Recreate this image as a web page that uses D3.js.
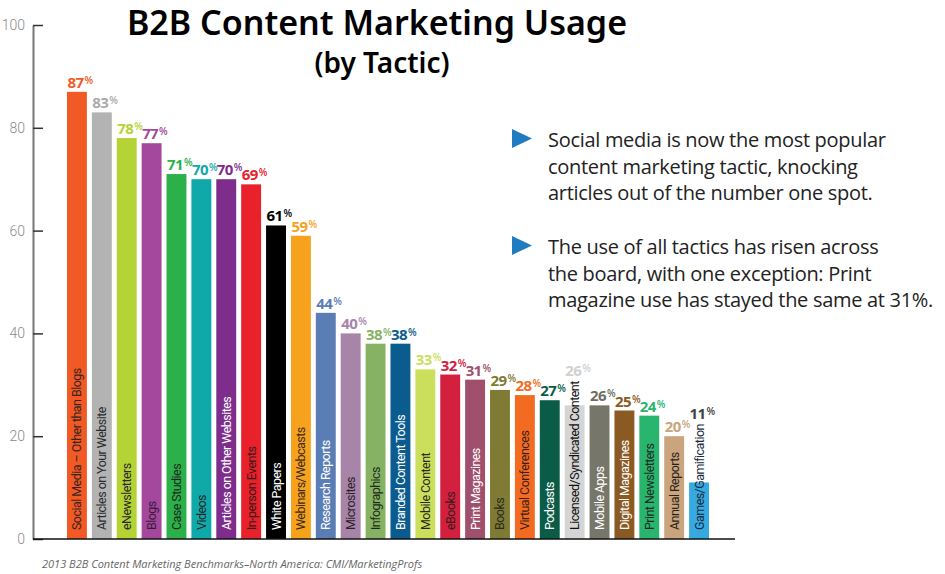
<!DOCTYPE html>
<meta charset="utf-8">
<script src="https://d3js.org/d3.v7.min.js"></script>
<style>
  body { margin: 0; background: #fff; }
</style>
<div id="chart"></div>
<script>

// data
var tactics = ["Social Media – Other than Blogs", "Articles on Your Website", "eNewsletters", "Blogs",
  "Case Studies", "Videos", "Articles on Other Websites", "In-person Events", "White Papers",
  "Webinars/Webcasts", "Research Reports", "Microsites", "Infographics", "Branded Content Tools",
  "Mobile Content", "eBooks", "Print Magazines", "Books", "Virtual Conferences", "Podcasts",
  "Licensed/Syndicated Content", "Mobile Apps", "Digital Magazines", "Print Newsletters",
  "Annual Reports", "Games/Gamification"];
var usage = [87, 83, 78, 77, 71, 70, 70, 69, 61, 59, 44, 40, 38, 38, 33, 32, 31, 29, 28, 27, 26, 26, 25, 24, 20, 11];
var yTicks = [0, 20, 40, 60, 80, 100];

var barColors = ["#f15a24", "#b3b3b3", "#b5d334", "#a3489c", "#2bb04a", "#10a9aa", "#7f2d8c", "#e8212b",
  "#000000", "#f7a21c", "#5b7db6", "#a784a8", "#86b363", "#0a5b8e", "#cbdf5c", "#d3203f", "#a04f6c",
  "#7f7b34", "#f26b21", "#0b5c47", "#d5d5d5", "#77766a", "#8b5a23", "#2ab56f", "#c9a47c", "#36a9e1"];
var valueColors = ["#f15a24", "#aaaaaa", "#b5d334", "#a3489c", "#2bb04a", "#10a9aa", "#7f2d8c", "#e8212b",
  "#000000", "#f7a21c", "#5b7db6", "#a784a8", "#86b363", "#0a5b8e", "#cbdf5c", "#d3203f", "#a04f6c",
  "#7f7b34", "#f26b21", "#0b5c47", "#d0d0d0", "#6f6e62", "#8b5a23", "#2ab56f", "#c9a47c", "#444444"];
// dark or white lettering inside each bar
var inkColors = ["#3a2420", "#2a2a2a", "#2a2a2a", "#3a1a3a", "#1f2a1f", "#1f2a2a", "#ffffff", "#3a1a1a",
  "#ffffff", "#3a2a1a", "#ffffff", "#2a1f2a", "#1f2a1a", "#ffffff", "#2a2a1a", "#3a1a1a", "#ffffff",
  "#2a2a1a", "#3a1f1a", "#ffffff", "#111111", "#ffffff", "#ffffff", "#1f2a1f", "#2a1f1a", "#1a2a3a"];

var bullets = [
  ["Social media is now the most popular", "content marketing tactic, knocking", "articles out of the number one spot."],
  ["The use of all tactics has risen across", "the board, with one exception: Print", "magazine use has stayed the same at 31%."]
];

var width = 945, height = 574;

var svg = d3.select("#chart")
  .append("svg")
    .attr("width", width)
    .attr("height", height);

var x = d3.scaleBand()
    .domain(tactics)
    .range([64.5, 711.5])
    .paddingInner(0.2)
    .paddingOuter(0.1);

var y = d3.scaleLinear()
    .domain([0, 100])
    .range([539, 25]);

// y axis, ticks pointing into the plot
var yAxis = svg.append("g")
    .attr("transform", "translate(33,0)")
    .call(d3.axisLeft(y).tickValues(yTicks).tickSizeInner(-10).tickSizeOuter(0).tickPadding(8));
yAxis.select(".domain").attr("stroke", "#777").attr("stroke-width", 2);
yAxis.selectAll(".tick line").attr("stroke", "#333").attr("stroke-width", 1.5);
yAxis.selectAll(".tick text")
    .attr("fill", "#8a8a8a")
    .style("font-family", "Roboto, 'Noto Sans', sans-serif")
    .style("font-size", "14px")
    .style("font-weight", 300);

// bars
var rows = tactics.map(function(t, i) { return {name: t, value: usage[i], i: i}; });

var bar = svg.selectAll(".bar")
    .data(rows)
    .enter()
    .append("g")
      .attr("class", "bar");

bar.append("rect")
    .attr("x", function(d) { return x(d.name); })
    .attr("y", function(d) { return y(d.value); })
    .attr("width", x.bandwidth())
    .attr("height", function(d) { return y(0) - y(d.value); })
    .style("fill", function(d) { return barColors[d.i]; });

// category names written up the bars
var names = bar.append("text")
    .attr("transform", function(d) { return "translate(" + (x(d.name) + x.bandwidth() / 2 + 4.5) + "," + (y(0) - 9) + ") rotate(-90)"; })
    .attr("text-anchor", "start")
    .style("font-family", "Roboto, sans-serif")
    .style("font-size", "12.5px")
    .style("letter-spacing", "-0.55px")
    .style("fill", function(d) { return inkColors[d.i]; })
    .text(function(d) { return d.name; });

// value labels, lifted over the name when the name runs past the bar
var vals = bar.append("text")
    .attr("x", function(d) { return x(d.name) + 0.5; })
    .attr("y", function(d, k) {
      var top = y(0) - 9 - names.nodes()[k].getComputedTextLength();
      return Math.min(y(d.value), top - 1) - 4;
    })
    .style("font-family", "'Open Sans', sans-serif")
    .style("font-weight", 700)
    .style("font-size", "15px")
    .style("letter-spacing", "-0.6px")
    .style("fill", function(d) { return valueColors[d.i]; });
vals.append("tspan").text(function(d) { return d.value; });
vals.append("tspan")
    .attr("dy", -4)
    .attr("dx", 1)
    .style("font-size", "10px")
    .style("font-weight", 600)
    .text("%");

// baseline
svg.append("line")
    .attr("x1", 33).attr("x2", 735)
    .attr("y1", y(0)).attr("y2", y(0))
    .attr("stroke", "#111")
    .attr("stroke-width", 1.5);

// title
svg.append("text")
    .attr("x", 377).attr("y", 35)
    .attr("text-anchor", "middle")
    .style("font-family", "'Noto Sans', sans-serif")
    .style("font-weight", 600)
    .style("font-size", "34px")
    .style("fill", "#000")
    .text("B2B Content Marketing Usage");

svg.append("text")
    .attr("x", 382).attr("y", 73)
    .attr("text-anchor", "middle")
    .style("font-family", "'Noto Sans', sans-serif")
    .style("font-weight", 600)
    .style("font-size", "28px")
    .style("fill", "#000")
    .text("(by Tactic)");

// notes on the right
var notes = svg.append("g");
bullets.forEach(function(lines, b) {
  var top = 147 + b * 107;
  notes.append("path")
      .attr("d", "M512," + (top - 18) + "L532," + (top - 8.5) + "L512," + (top + 1) + "Z")
      .style("fill", "#1f7cc1");
  lines.forEach(function(line, k) {
    notes.append("text")
        .attr("x", 548)
        .attr("y", top + k * 26.5)
        .style("font-family", "'Open Sans', sans-serif")
        .style("font-size", "20px")
        .style("letter-spacing", "-0.3px")
        .style("fill", "#222")
        .text(line);
  });
});

// source
svg.append("text")
    .attr("x", 42).attr("y", 568)
    .style("font-family", "'Open Sans', sans-serif")
    .style("font-style", "italic")
    .style("font-size", "11px")
    .style("fill", "#666")
    .text("2013 B2B Content Marketing Benchmarks–North America: CMI/MarketingProfs");

</script>
